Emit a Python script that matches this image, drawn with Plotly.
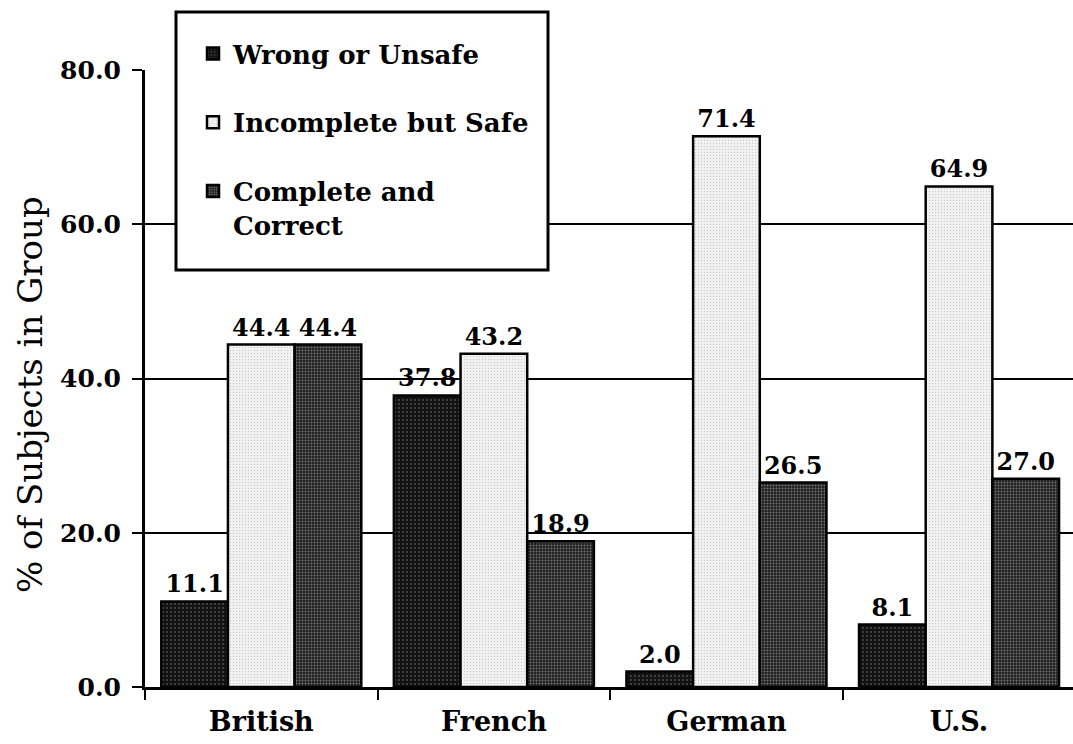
import plotly.graph_objects as go

# Share of subjects per national group, by outcome
groups = ["British", "French", "German", "U.S."]
wrong_or_unsafe = [11.1, 37.8, 2.0, 8.1]
incomplete_but_safe = [44.4, 43.2, 71.4, 64.9]
complete_and_correct = [44.4, 18.9, 26.5, 27.0]

series_names = ["Wrong or Unsafe", "Incomplete but Safe", "Complete and<br>Correct"]
y_ticks = [0, 20, 40, 60, 80]

BOLD = dict(family="DejaVu Serif", color="black", weight="bold")

# dotted fills standing in for the halftone screens
patterns = [
    dict(shape=".", bgcolor="#121212", fgcolor="#8a8a8a", size=4, solidity=0.2),
    dict(shape=".", bgcolor="#f1f1f1", fgcolor="#8c8c8c", size=3, solidity=0.12),
    dict(shape=".", bgcolor="#1e1e1e", fgcolor="#c8c8c8", size=3, solidity=0.33),
]

fig = go.Figure()
for i, (name, vals) in enumerate(zip(series_names,
                                     [wrong_or_unsafe, incomplete_but_safe, complete_and_correct])):
    fig.add_trace(go.Bar(
        x=groups, y=vals, name=name, legendgroup=f"g{i}",
        marker=dict(color=patterns[i]["bgcolor"], pattern=patterns[i],
                    line=dict(color="black", width=2.5)),
        texttemplate="%{y:.1f}", textposition="outside",
        textfont=dict(size=24, **BOLD), constraintext="none",
        cliponaxis=False, hoverinfo="skip",
    ))

W, H = 1073, 744
L, R, T, B = 145, 0, 70, 57
pw, ph = W - L - R, H - T - B

def px_x(x):
    return (x - L) / pw

def px_y(y):
    return (H - B - y) / ph

fig.update_layout(
    width=W, height=H,
    margin=dict(l=L, r=R, t=T, b=B, autoexpand=False),
    paper_bgcolor="white", plot_bgcolor="white",
    barmode="group", bargap=0.14, bargroupgap=0.0,
    showlegend=True,
    legend=dict(
        x=px_x(193), y=px_y(30), xanchor="left", yanchor="top",
        bgcolor="rgba(0,0,0,0)", borderwidth=0,
        font=dict(size=26, **BOLD), tracegroupgap=32, valign="top",
        traceorder="grouped",
    ),
    xaxis=dict(
        type="category", range=[-0.5, 3.49],
        tickson="boundaries", ticks="outside", ticklen=10, tickwidth=2, tickcolor="black",
        showline=True, linewidth=3, linecolor="black", showgrid=False,
        tickfont=dict(size=27, **BOLD), ticklabelstandoff=9, automargin=False,
    ),
    yaxis=dict(
        range=[0, 80], tickvals=y_ticks, tickformat=".1f",
        ticks="outside", ticklen=10, tickwidth=2, tickcolor="black",
        showline=True, linewidth=3, linecolor="black",
        showgrid=True, gridcolor="black", gridwidth=2, zeroline=False,
        tickfont=dict(size=25, **BOLD), ticklabelstandoff=6, automargin=False,
    ),
    shapes=[dict(
        type="rect", xref="paper", yref="paper", layer="above",
        x0=px_x(176), x1=px_x(548), y0=px_y(270), y1=px_y(12),
        fillcolor="white", line=dict(color="black", width=3),
    )],
    annotations=[dict(
        text="% of Subjects in Group", textangle=-90,
        xref="paper", yref="paper", x=px_x(30), y=px_y(395),
        xanchor="center", yanchor="middle", showarrow=False,
        font=dict(family="DejaVu Serif", size=34, color="black"),
    )],
)

fig.write_html("out.html")
